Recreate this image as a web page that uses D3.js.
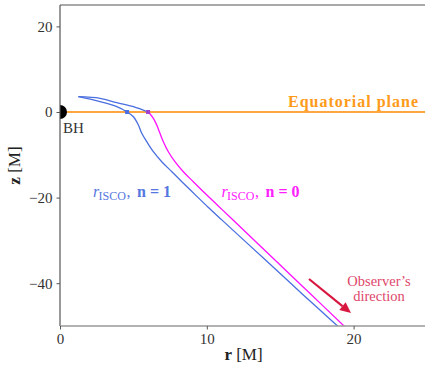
<!DOCTYPE html>
<html>
<head>
<meta charset="utf-8">
<script src="https://cdn.jsdelivr.net/npm/d3@7"></script>
<style>
  body { margin: 0; background: #fff; }
  svg { display: block; }
  text { font-family: "Liberation Serif", "DejaVu Serif", serif; }
</style>
</head>
<body>
<svg id="chart" width="425" height="366"></svg>
<script>
// Photon paths in the (r, z) plane, in units of M
const rTicks = [0, 10, 20];
const zTicks = [-40, -20, 0, 20];

// n = 1 image: from the emitting point down through r_ISCO
const pathN1R = [1.25, 2.73, 3.87, 4.57, 5.0, 5.34, 5.57, 5.91, 6.36, 6.93, 7.62, 8.30, 9.20, 10.11, 11.02, 14.0, 16.5, 18.97, 20.2];
const pathN1Z = [3.58, 2.41, 1.24, 0.0, -1.1, -3.04, -4.98, -6.94, -9.28, -11.61, -13.95, -16.29, -19.3, -22.3, -25.2, -34.6, -42.5, -50.2, -54.0];

// n = 0 image: approach segment (drawn in blue) up to r_ISCO
const pathN0inR = [1.25, 2.73, 3.87, 5.0, 5.98];
const pathN0inZ = [3.58, 3.2, 2.18, 1.24, 0.0];

// n = 0 image: outgoing segment towards the observer
const pathN0outR = [6.02, 6.36, 6.59, 6.81, 7.04, 7.38, 7.83, 8.40, 9.08, 9.88, 10.78, 11.70, 14.5, 17.0, 19.41, 20.6];
const pathN0outZ = [0.0, -1.47, -3.04, -4.98, -6.94, -9.28, -11.61, -13.95, -16.29, -19.0, -21.95, -24.95, -34.1, -42.3, -50.2, -54.1];

// r_ISCO crossing points on the equatorial plane
const iscoR = [4.57, 6.0];
const iscoZ = [0, 0];

const W = 425, H = 366;
const margin = { left: 60, top: 5, right: -2, bottom: 40 };
const svg = d3.select("#chart");

const x = d3.scaleLinear().domain([0, 25]).range([margin.left, W - margin.right]);
const y = d3.scaleLinear().domain([-50, 25]).range([H - margin.bottom, margin.top]);

const pw = x(25) - x(0), ph = y(-50) - y(25);

svg.append("defs").append("clipPath").attr("id", "plotclip")
  .append("rect").attr("x", x(0)).attr("y", y(25)).attr("width", pw).attr("height", ph);

const plot = svg.append("g").attr("clip-path", "url(#plotclip)");

const line = d3.line().x(d => x(d[0])).y(d => y(d[1])).curve(d3.curveCatmullRom.alpha(0.5));
const zipPts = (rs, zs) => rs.map((r, i) => [r, zs[i]]);

// Equatorial plane
plot.append("line")
  .attr("x1", x(0)).attr("x2", x(25)).attr("y1", y(0)).attr("y2", y(0))
  .attr("stroke", "#ffa640").attr("stroke-width", 1.8);

// Photon paths
const blue = "#4a6fe0", magenta = "#ff10ff";
plot.append("path").datum(zipPts(pathN0inR, pathN0inZ)).attr("d", line)
  .attr("fill", "none").attr("stroke", blue).attr("stroke-width", 1.3);
plot.append("path").datum(zipPts(pathN1R, pathN1Z)).attr("d", line)
  .attr("fill", "none").attr("stroke", blue).attr("stroke-width", 1.3);
plot.append("path").datum(zipPts(pathN0outR, pathN0outZ)).attr("d", line)
  .attr("fill", "none").attr("stroke", magenta).attr("stroke-width", 1.3);

// ISCO markers
const dotColors = ["#4a6fe0", "#a040d0"];
plot.selectAll("rect.isco").data(iscoR).join("rect").attr("class", "isco")
  .attr("x", (d) => x(d) - 2).attr("y", (d, i) => y(iscoZ[i]) - 2)
  .attr("width", 4).attr("height", 4)
  .attr("fill", (d, i) => dotColors[i]);

// Black hole
plot.append("circle").attr("cx", x(0)).attr("cy", y(0)).attr("r", 7).attr("fill", "#000");

// Spines
svg.append("line").attr("x1", x(0)).attr("x2", x(0)).attr("y1", y(25)).attr("y2", y(-50))
  .attr("stroke", "#555").attr("stroke-width", 1.2);
svg.append("line").attr("x1", x(0)).attr("x2", x(25)).attr("y1", y(25)).attr("y2", y(25))
  .attr("stroke", "#555").attr("stroke-width", 1.2);
svg.append("line").attr("x1", x(0)).attr("x2", x(25)).attr("y1", y(-50)).attr("y2", y(-50))
  .attr("stroke", "#999").attr("stroke-width", 1.6);

// Axes (ticks and labels only)
const fmt = d => d < 0 ? "\u2212" + Math.abs(d) : String(d);
const xAxis = svg.append("g").attr("transform", `translate(0,${y(-50)})`)
  .call(d3.axisBottom(x).tickValues(rTicks).tickFormat(fmt).tickSize(3.5).tickPadding(4));
const yAxis = svg.append("g").attr("transform", `translate(${x(0)},0)`)
  .call(d3.axisLeft(y).tickValues(zTicks).tickFormat(fmt).tickSize(3.5).tickPadding(4));
[xAxis, yAxis].forEach(a => {
  a.select(".domain").remove();
  a.selectAll(".tick line").attr("stroke", "#555");
  a.selectAll(".tick text").attr("fill", "#333").attr("font-size", 15)
    .attr("font-family", "Liberation Serif, serif");
});

// Axis titles
const xl = svg.append("text").attr("x", (x(0) + x(25)) / 2).attr("y", 360)
  .attr("text-anchor", "middle").attr("font-size", 17).attr("fill", "#222");
xl.append("tspan").attr("font-weight", "bold").text("r");
xl.append("tspan").text(" [M]");
const yl = svg.append("text").attr("transform", `translate(20,${(y(25) + y(-50)) / 2}) rotate(-90)`)
  .attr("text-anchor", "middle").attr("font-size", 17).attr("fill", "#222");
yl.append("tspan").attr("font-weight", "bold").text("z");
yl.append("tspan").text(" [M]");

// Annotations
svg.append("text").attr("x", 288).attr("y", 106.5)
  .attr("font-size", 16).attr("font-weight", "bold").attr("fill", "#ff9a1a")
  .attr("textLength", 130).attr("lengthAdjust", "spacing")
  .text("Equatorial plane");

svg.append("text").attr("x", 63).attr("y", 133).attr("font-size", 15).attr("fill", "#333").text("BH");

function iscoLabel(px, py, n, color) {
  const t = svg.append("text").attr("y", py).attr("font-size", 16).attr("fill", color);
  t.append("tspan").attr("x", px).attr("font-style", "italic").text("r");
  t.append("tspan").attr("x", px + 5.5).attr("font-size", 12).attr("dy", 3).text("ISCO");
  t.append("tspan").attr("x", px + 33.5).attr("dy", -3).text(",");
  t.append("tspan").attr("x", px + 44).attr("font-weight", "bold").attr("xml:space", "preserve").text(`n = ${n}`);
}
iscoLabel(93, 197, 1, "#5577e0");
iscoLabel(221.5, 197, 0, "#ff20ff");

// Observer's direction arrow
const arrowColor = "#d8173f";
const a0 = [309, 279], a1 = [351, 313];
const ang = Math.atan2(a1[1] - a0[1], a1[0] - a0[0]);
const headLen = 11, headW = 5;
const base = [a1[0] - headLen * Math.cos(ang), a1[1] - headLen * Math.sin(ang)];
svg.append("line").attr("x1", a0[0]).attr("y1", a0[1]).attr("x2", base[0]).attr("y2", base[1])
  .attr("stroke", arrowColor).attr("stroke-width", 2.2);
svg.append("path")
  .attr("d", `M${a1[0]},${a1[1]} L${base[0] + headW * Math.sin(ang)},${base[1] - headW * Math.cos(ang)} L${base[0] - headW * Math.sin(ang)},${base[1] + headW * Math.cos(ang)} Z`)
  .attr("fill", arrowColor);
const obs = svg.append("text").attr("text-anchor", "middle").attr("font-size", 14.5).attr("fill", "#e0466a");
obs.append("tspan").attr("x", 379).attr("y", 286).text("Observer\u2019s");
obs.append("tspan").attr("x", 379).attr("y", 301).text("direction");
</script>
</body>
</html>
